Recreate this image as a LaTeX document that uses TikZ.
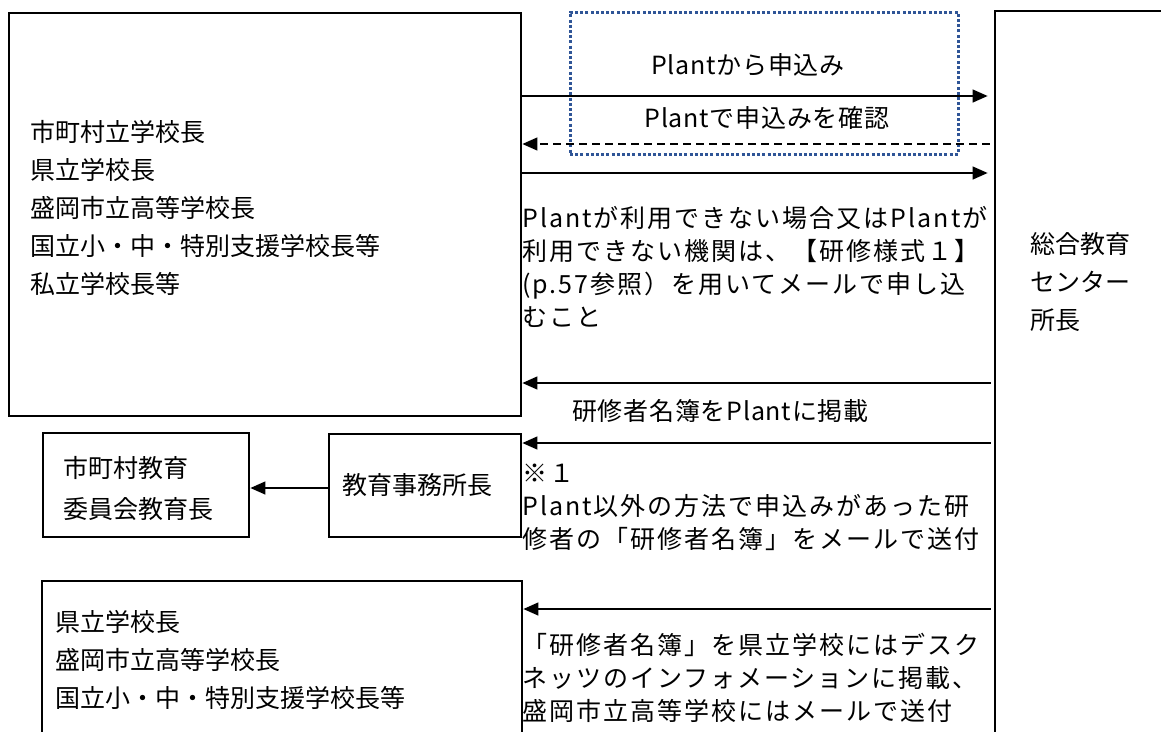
\documentclass[tikz,border=0pt]{standalone}
\usepackage{fontspec}
\setmainfont{Noto Sans CJK JP}
\usetikzlibrary{arrows.meta}

\definecolor{dotblue}{HTML}{2F5597}

\begin{document}
\begin{tikzpicture}[x=1pt, y=-1pt,
    box/.style={draw, line width=2.8pt, inner sep=0pt},
    flow/.style={line width=1.3pt, -{Triangle[length=15pt, width=13pt]}},
    note/.style={inner sep=0pt, align=left, font=\fontsize{25}{33}\selectfont\addfontfeature{LetterSpace=3}},
    para/.style={note, font=\fontsize{25}{33}\selectfont\addfontfeature{LetterSpace=8}},
    entry/.style={inner sep=0pt, align=left, font=\fontsize{25}{38}\selectfont}]
    \useasboundingbox (0,0) rectangle (1161,731);
    \clip (0,0) rectangle (1161,731);

    % Boxes
    \node[box, minimum width=512pt, minimum height=403pt] (schools) at (265,214.5) {};
    \node[box, minimum width=200pt, minimum height=780pt] (centre) at (1095,401) {};
    \node[box, minimum width=206pt, minimum height=104pt] (board) at (146,485) {};
    \node[box, minimum width=192pt, minimum height=103pt] (office) at (425,485.5) {};
    \node[box, minimum width=480pt, minimum height=220pt] (prefs) at (282,691) {};

    % Box texts
    \node[entry, anchor=west] (schools text) at (30,208) {市町村立学校長\\県立学校長\\盛岡市立高等学校長\\国立小・中・特別支援学校長等\\私立学校長等};
    \node[entry, anchor=west] (centre text) at (1030,282) {総合教育\\センター\\所長};
    \node[entry, anchor=west, font=\fontsize{25}{41}\selectfont] (board text) at (63,488) {市町村教育\\委員会教育長};
    \node[entry] (office text) at (417,485) {教育事務所長};
    \node[entry, anchor=west] (prefs text) at (55,659.5) {県立学校長\\盛岡市立高等学校長\\国立小・中・特別支援学校長等};

    % Plant frame
    \node[draw=dotblue, line width=3pt, dash pattern=on 3pt off 2.2pt, minimum width=388pt, minimum height=142pt] (frame) at (764,83) {};

    % Arrows
    \draw[flow, shorten >=6pt] (schools.east |- 0,96) -- (centre.west |- 0,96);
    \draw[flow, dash pattern=on 8pt off 5pt, shorten <=4pt] (centre.west |- 0,144) -- (schools.east |- 0,144);
    \draw[flow, shorten >=6pt] (schools.east |- 0,173) -- (centre.west |- 0,173);
    \draw[flow, shorten <=3pt] (centre.west |- 0,383) -- (schools.east |- 0,383);
    \draw[flow, shorten <=3pt] (centre.west |- 0,443) -- (office.east |- 0,443);
    \draw[flow] (office.west |- 0,488) -- (board.east |- 0,488);
    \draw[flow, shorten <=3pt] (centre.west |- 0,609) -- (prefs.east |- 0,609);

    % Arrow texts
    \node[note] (apply) at (748,65) {Plantから申込み};
    \node[note] (confirm) at (767,118) {Plantで申込みを確認};
    \node[para, anchor=west] (mail) at (522,266.5) {Plantが利用できない場合又はPlantが\\利用できない機関は、【研修様式１】\\(p.57参照）を用いてメールで申し込\\むこと};
    \node[note, anchor=west] (post) at (572,411) {研修者名簿をPlantに掲載};
    \node[para, anchor=west] (other) at (522,507) {※１\\Plant以外の方法で申込みがあった研\\修者の「研修者名簿」をメールで送付};
    \node[para, anchor=west] (desk) at (522,678) {「研修者名簿」を県立学校にはデスク\\ネッツのインフォメーションに掲載、\\盛岡市立高等学校にはメールで送付};
\end{tikzpicture}
\end{document}
